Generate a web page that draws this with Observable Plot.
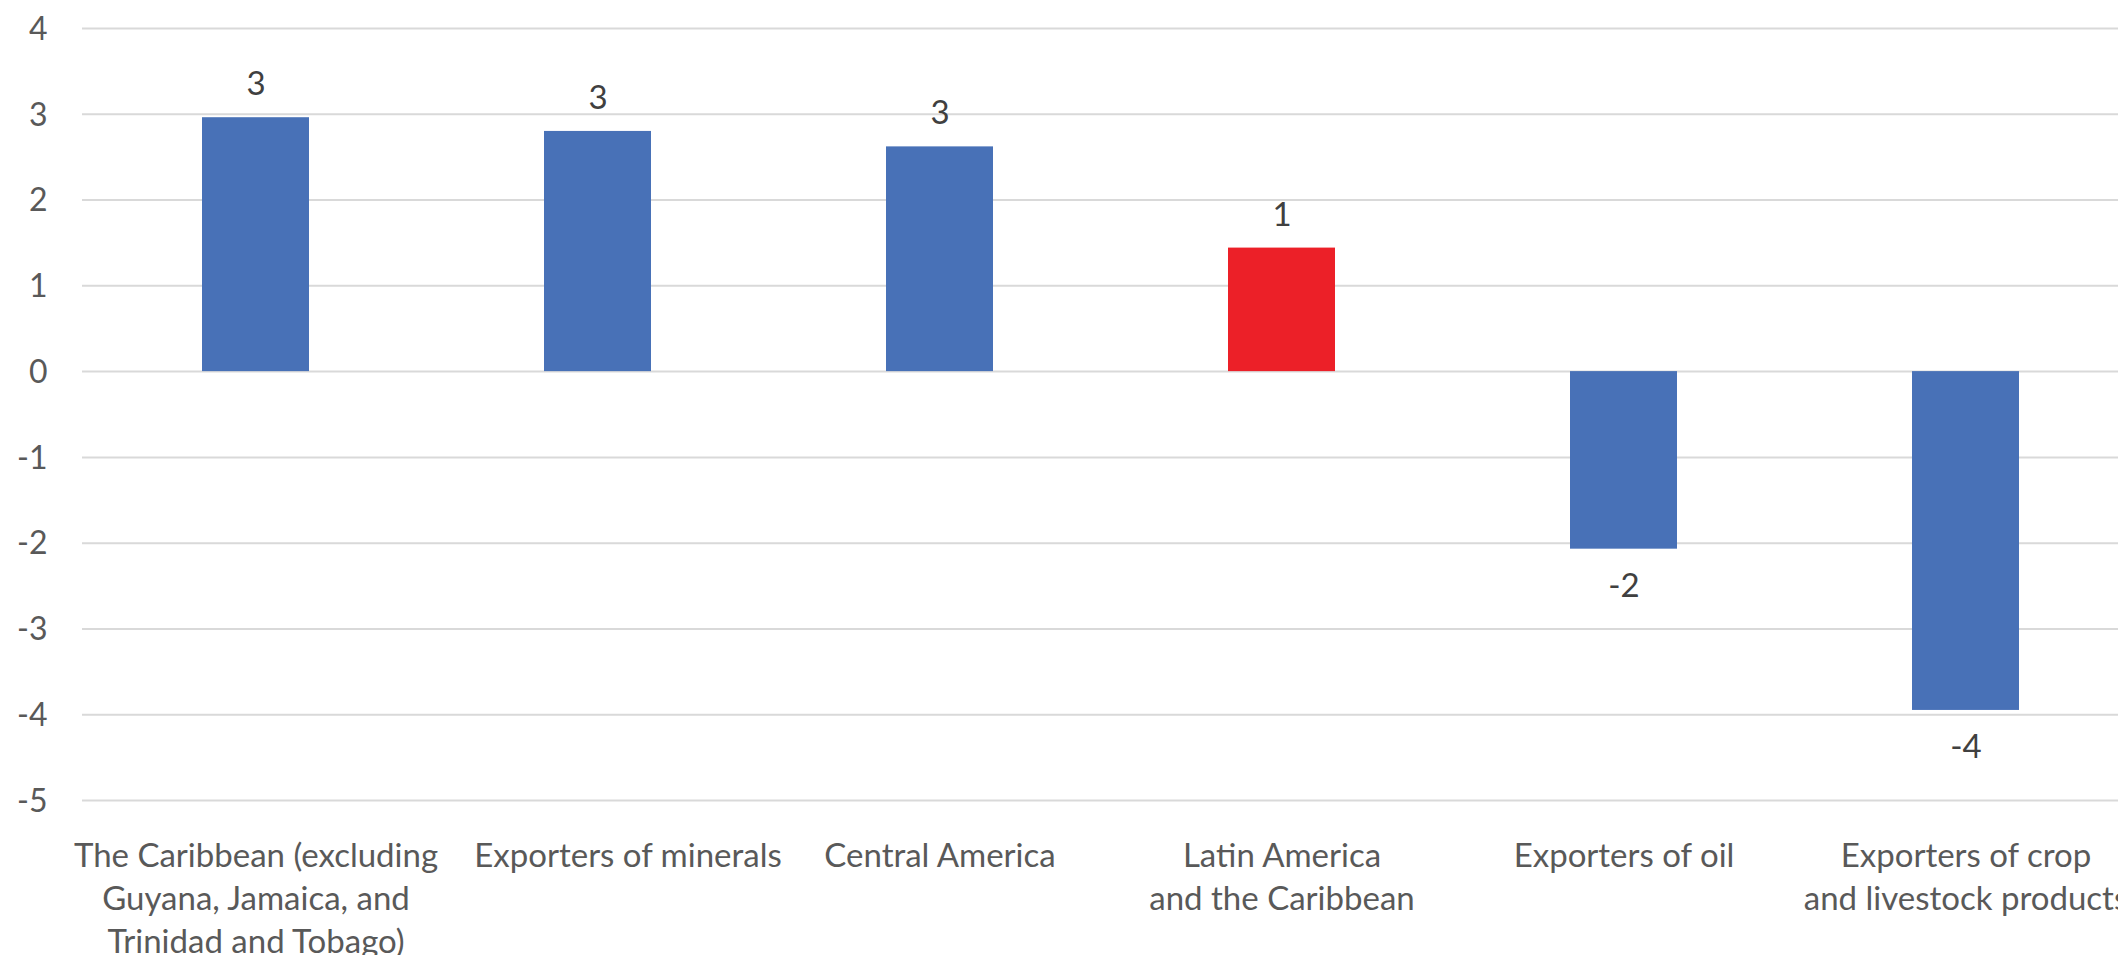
<!DOCTYPE html>
<html>
<head>
<meta charset="utf-8">
<script src="https://cdn.jsdelivr.net/npm/d3@7"></script>
<script src="https://cdn.jsdelivr.net/npm/@observablehq/plot@0.6"></script>
<style>
  html, body { margin: 0; padding: 0; background: #ffffff; overflow: hidden; }
  #chart svg { display: block; overflow: hidden; }
</style>
</head>
<body>
<div id="chart"></div>
<script>
// Regional groups and their values
const categories = [
  "The Caribbean (excluding Guyana, Jamaica, and Trinidad and Tobago)",
  "Exporters of minerals",
  "Central America",
  "Latin America and the Caribbean",
  "Exporters of oil",
  "Exporters of crop and livestock products"
];
const tickLabels = [
  "The Caribbean (excluding\nGuyana, Jamaica, and\nTrinidad and Tobago)",
  "Exporters of minerals",
  "Central America",
  "Latin America\nand the Caribbean",
  "Exporters of oil",
  "Exporters of crop\nand livestock products"
];
const values = [2.96, 2.80, 2.62, 1.44, -2.07, -3.95];
const yTicks = [-5, -4, -3, -2, -1, 0, 1, 2, 3, 4];
const regionalTotal = "Latin America and the Caribbean";

const rows = categories.map((c, i) => ({category: c, value: values[i]}));
const labelOf = new Map(categories.map((c, i) => [c, tickLabels[i]]));

const W = 2118, H = 955;
const left = 82;
const step = 342.8;
const font = "Lato, 'Open Sans', sans-serif";

// Category labels; the single-line minerals label sits a little right of its bar
const axisStyle = {
  tickSize: 0,
  tickPadding: 36,
  fontSize: 33,
  lineHeight: 1.3,
  fill: "#595959",
  tickFormat: d => labelOf.get(d),
  label: null
};
const shifted = categories[1];

const chart = Plot.plot({
  width: W,
  height: H,
  marginLeft: left,
  marginRight: 0,
  marginTop: 28,
  marginBottom: 155,
  style: {fontFamily: font, background: "#ffffff"},
  x: {
    domain: categories,
    range: [left, left + step * categories.length],
    paddingInner: 0.688,
    paddingOuter: 0.344,
    align: 0.5
  },
  y: {domain: [-5, 4]},
  marks: [
    Plot.gridY(yTicks, {stroke: "#d9d9d9", strokeOpacity: 1, strokeWidth: 2}),
    Plot.axisY(yTicks, {
      tickSize: 0,
      tickPadding: 35,
      fontSize: 32,
      fill: "#595959",
      dy: 1,
      tickFormat: d => String(d),
      label: null
    }),
    Plot.axisX(categories.filter(c => c !== shifted), axisStyle),
    Plot.axisX([shifted], {...axisStyle, dx: 30}),
    Plot.barY(rows, {
      x: "category",
      y: "value",
      fill: d => d.category === regionalTotal ? "#ec2028" : "#4871b7"
    }),
    Plot.text(rows.filter(d => d.value >= 0), {
      x: "category",
      y: "value",
      text: d => String(Math.round(d.value)),
      dy: -33,
      fontSize: 33,
      fill: "#404040"
    }),
    Plot.text(rows.filter(d => d.value < 0), {
      x: "category",
      y: "value",
      text: d => String(Math.round(d.value)),
      dy: 37,
      fontSize: 33,
      fill: "#404040"
    })
  ]
});

document.getElementById("chart").appendChild(chart);
</script>
</body>
</html>
